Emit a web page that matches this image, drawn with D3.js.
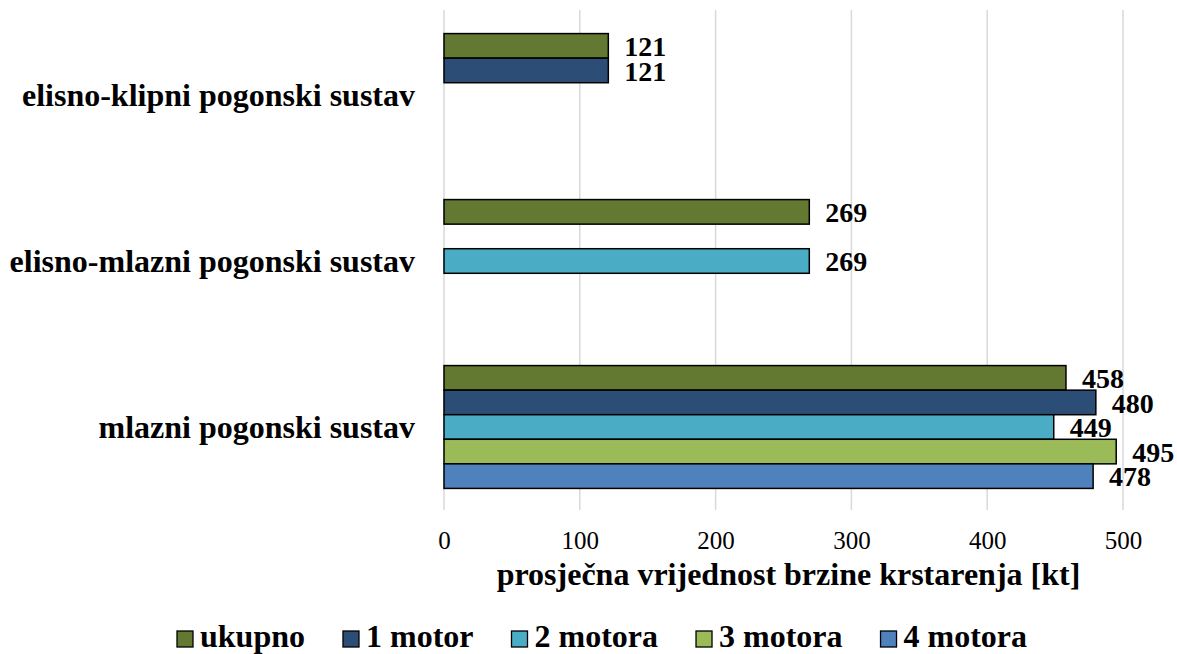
<!DOCTYPE html>
<html>
<head>
<meta charset="utf-8">
<script src="https://cdn.jsdelivr.net/npm/d3@7"></script>
<style>
  body { margin: 0; background: #fff; }
</style>
</head>
<body>
<svg id="chart" width="1177" height="654"></svg>
<script>
// data
const categories = ["elisno-klipni pogonski sustav", "elisno-mlazni pogonski sustav", "mlazni pogonski sustav"]
const series = ["ukupno", "1 motor", "2 motora", "3 motora", "4 motora"]
const colors = ["#637831", "#2c4d75", "#4bacc6", "#9bbb59", "#4f81bd"]
// one row per category, one value per series (null = no bar)
const values = [
  [121, 121, null, null, null],
  [269, null, 269, null, null],
  [458, 480, 449, 495, 478]
]
const xTicks = [0, 100, 200, 300, 400, 500]
const xTitle = "prosječna vrijednost brzine krstarenja [kt]"

const font = "Liberation Serif"
const svg = d3.select("#chart")

// scales
const x = d3.scaleLinear().domain([0, 500]).range([444, 1123])
const y = d3.scaleBand().domain(categories).range([12, 510]).paddingInner(0.26).paddingOuter(0.13)
const ySub = d3.scaleBand().domain(series).range([0, y.bandwidth()])

// gridlines
svg.append("g").selectAll("line")
  .data(xTicks)
  .join("line")
  .attr("x1", d => x(d)).attr("x2", d => x(d))
  .attr("y1", 10).attr("y2", 510)
  .attr("stroke", "#d9d9d9")
  .attr("stroke-width", 1.5)

// x axis (labels only)
const xAxis = svg.append("g")
  .attr("transform", "translate(0,510)")
  .call(d3.axisBottom(x).tickValues(xTicks).tickSize(0).tickPadding(21))
xAxis.select(".domain").remove()
xAxis.selectAll("text")
  .attr("font-family", font)
  .attr("font-size", 25)
  .attr("fill", "#000")

svg.append("text")
  .attr("x", (x(0) + x(500)) / 2 + 5)
  .attr("y", 585)
  .attr("text-anchor", "middle")
  .attr("font-family", font)
  .attr("font-size", 32)
  .attr("font-weight", "bold")
  .text(xTitle)

// category labels
svg.append("g").selectAll("text")
  .data(categories)
  .join("text")
  .attr("x", 415)
  .attr("y", d => y(d) + y.bandwidth() / 2)
  .attr("dy", "0.33em")
  .attr("text-anchor", "end")
  .attr("font-family", font)
  .attr("font-size", 32)
  .attr("font-weight", "bold")
  .text(d => d)

// flatten into bars
const bars = []
values.forEach(function (row, ci) {
  row.forEach(function (v, si) {
    if (v !== null) bars.push({cat: categories[ci], ser: series[si], color: colors[si], value: v})
  })
})

svg.append("g").selectAll("rect")
  .data(bars)
  .join("rect")
  .attr("x", x(0))
  .attr("y", d => y(d.cat) + ySub(d.ser))
  .attr("width", d => x(d.value) - x(0))
  .attr("height", ySub.bandwidth())
  .attr("fill", d => d.color)
  .attr("stroke", "#000")
  .attr("stroke-width", 1.5)

svg.append("g").selectAll("text")
  .data(bars)
  .join("text")
  .attr("x", d => x(d.value) + 16)
  .attr("y", d => y(d.cat) + ySub(d.ser) + ySub.bandwidth() / 2)
  .attr("dy", "0.36em")
  .attr("font-family", font)
  .attr("font-size", 28)
  .attr("font-weight", "bold")
  .text(d => d.value)

// legend
const legend = svg.append("g")
let lx = 177
series.forEach(function (s, i) {
  const g = legend.append("g").attr("transform", `translate(${lx},631)`)
  g.append("rect")
    .attr("width", 16).attr("height", 16)
    .attr("fill", colors[i])
    .attr("stroke", "#000")
    .attr("stroke-width", 1.3)
  const t = g.append("text")
    .attr("x", 23)
    .attr("y", 16)
    .attr("font-family", font)
    .attr("font-size", 32)
    .attr("font-weight", "bold")
    .text(s)
  lx += 23 + t.node().getComputedTextLength() + 38
})
</script>
</body>
</html>
